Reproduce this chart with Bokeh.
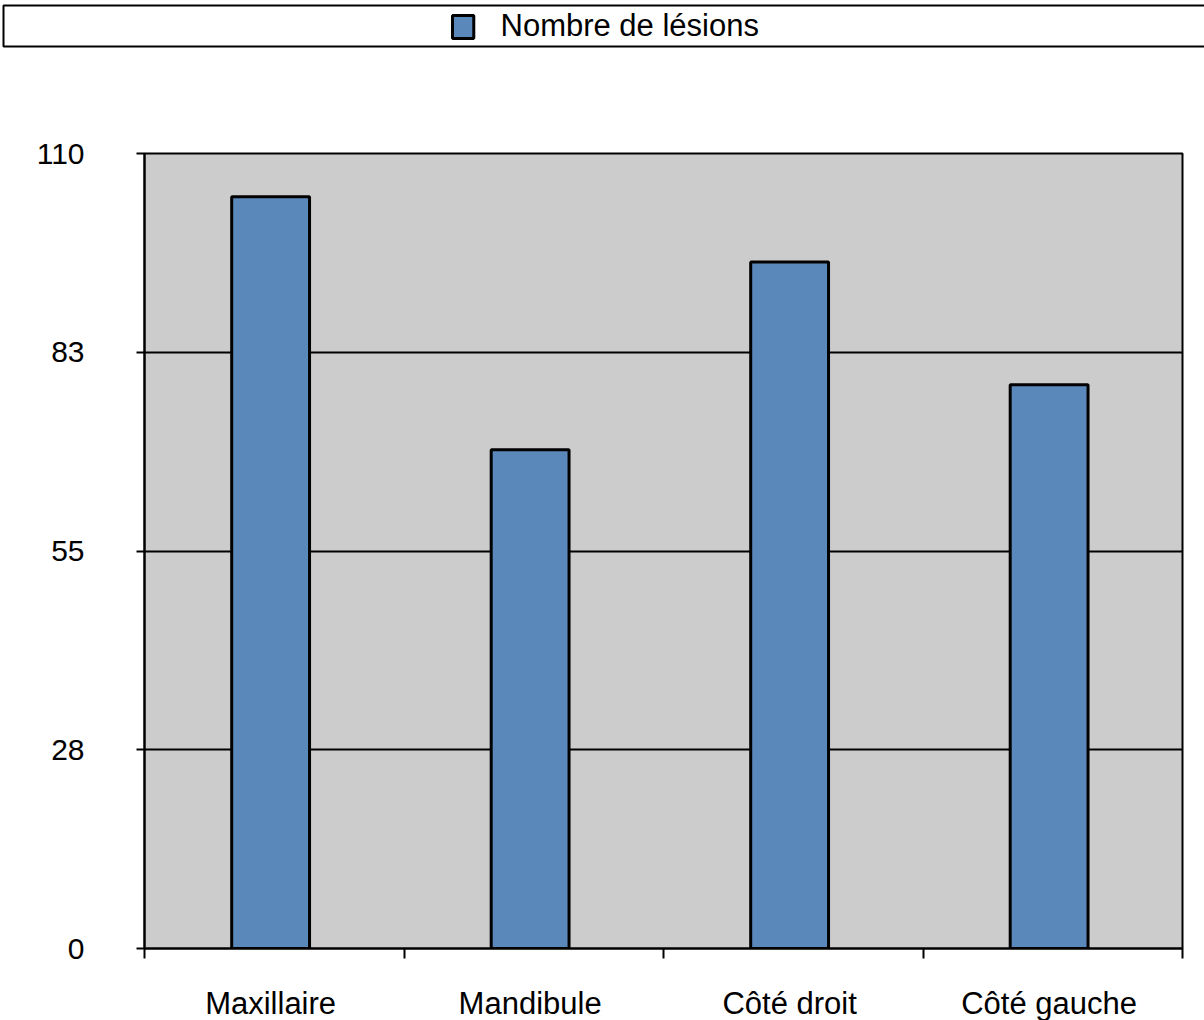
from bokeh.plotting import figure
from bokeh.models import Range1d, FixedTicker, Label
from bokeh.embed import file_html
from bokeh.resources import INLINE

categories = ["Maxillaire", "Mandibule", "Côté droit", "Côté gauche"]
values = [104, 69, 95, 78]
series_name = "Nombre de lésions"
y_ticks = [0, 27.5, 55, 82.5, 110]
y_tick_labels = ["0", "28", "55", "83", "110"]

BAR = "#5B88BA"
FONT = "Liberation Sans"

n = len(categories)
xs = [i + 0.486 for i in range(n)]   # category centres (slightly left of the slot middle, as drawn)

p = figure(frame_width=1038, frame_height=795, output_backend="svg", toolbar_location=None,
           x_range=Range1d(0, n), y_range=Range1d(0, 110),
           min_border_left=144, min_border_right=22, min_border_top=153, min_border_bottom=72)
p.background_fill_color = "#CCCCCC"
p.border_fill_color = "white"
p.outline_line_color = "black"
p.outline_line_width = 2

bars = p.vbar(x=xs, top=values, width=0.3, bottom=0, fill_color=BAR,
              line_color="black", line_width=3)

p.xgrid.visible = False
p.ygrid.grid_line_color = "black"
p.ygrid.grid_line_width = 2
p.ygrid.ticker = FixedTicker(ticks=y_ticks)

p.yaxis.ticker = FixedTicker(ticks=y_ticks)
p.yaxis.major_label_overrides = {t: l for t, l in zip(y_ticks, y_tick_labels)}
p.yaxis.major_tick_out = 8
p.yaxis.major_tick_in = 0
p.yaxis.minor_tick_out = 0
p.yaxis.minor_tick_in = 0
p.yaxis.major_label_standoff = 52
p.yaxis.major_label_text_font_size = "30px"

p.xaxis.ticker = FixedTicker(ticks=xs, minor_ticks=list(range(n + 1)))
p.xaxis.major_label_overrides = {x: c for x, c in zip(xs, categories)}
p.xaxis.major_tick_out = 0
p.xaxis.major_tick_in = 0
p.xaxis.minor_tick_out = 10
p.xaxis.minor_tick_in = 0
p.xaxis.major_label_standoff = 27
p.xaxis.major_label_text_font_size = "31px"

for ax in (p.xaxis, p.yaxis):
    ax.axis_line_color = "black"
    ax.axis_line_width = 2
    ax.major_tick_line_color = "black"
    ax.major_tick_line_width = 2
    ax.minor_tick_line_color = "black"
    ax.minor_tick_line_width = 2
    ax.major_label_text_font = FONT
    ax.major_label_text_color = "black"

# legend, drawn in the top side panel: frame box, colour key, series name
leg_box = Label(x=-141, y=148, x_units="screen", y_units="screen", text=" ",
                text_font_size="1px", text_align="left", text_baseline="top",
                background_fill_color="white", border_line_color="black", border_line_width=2,
                padding=(0, 1210, 40, 0))
leg_key = Label(x=308, y=97, x_units="screen", y_units="screen", text=" ",
                text_font_size="1px", text_align="left", text_baseline="top",
                background_fill_color=BAR, border_line_color="black", border_line_width=3,
                padding=(0, 21, 22, 0))
leg_text = Label(x=356, y=64, x_units="screen", y_units="screen", text=series_name,
                 text_font=FONT, text_font_size="31px", text_color="black",
                 text_align="left", text_baseline="middle")
p.add_layout(leg_box, "above")
p.add_layout(leg_key, "above")
p.add_layout(leg_text, "above")

open("out.html", "w").write(file_html(p, INLINE))
